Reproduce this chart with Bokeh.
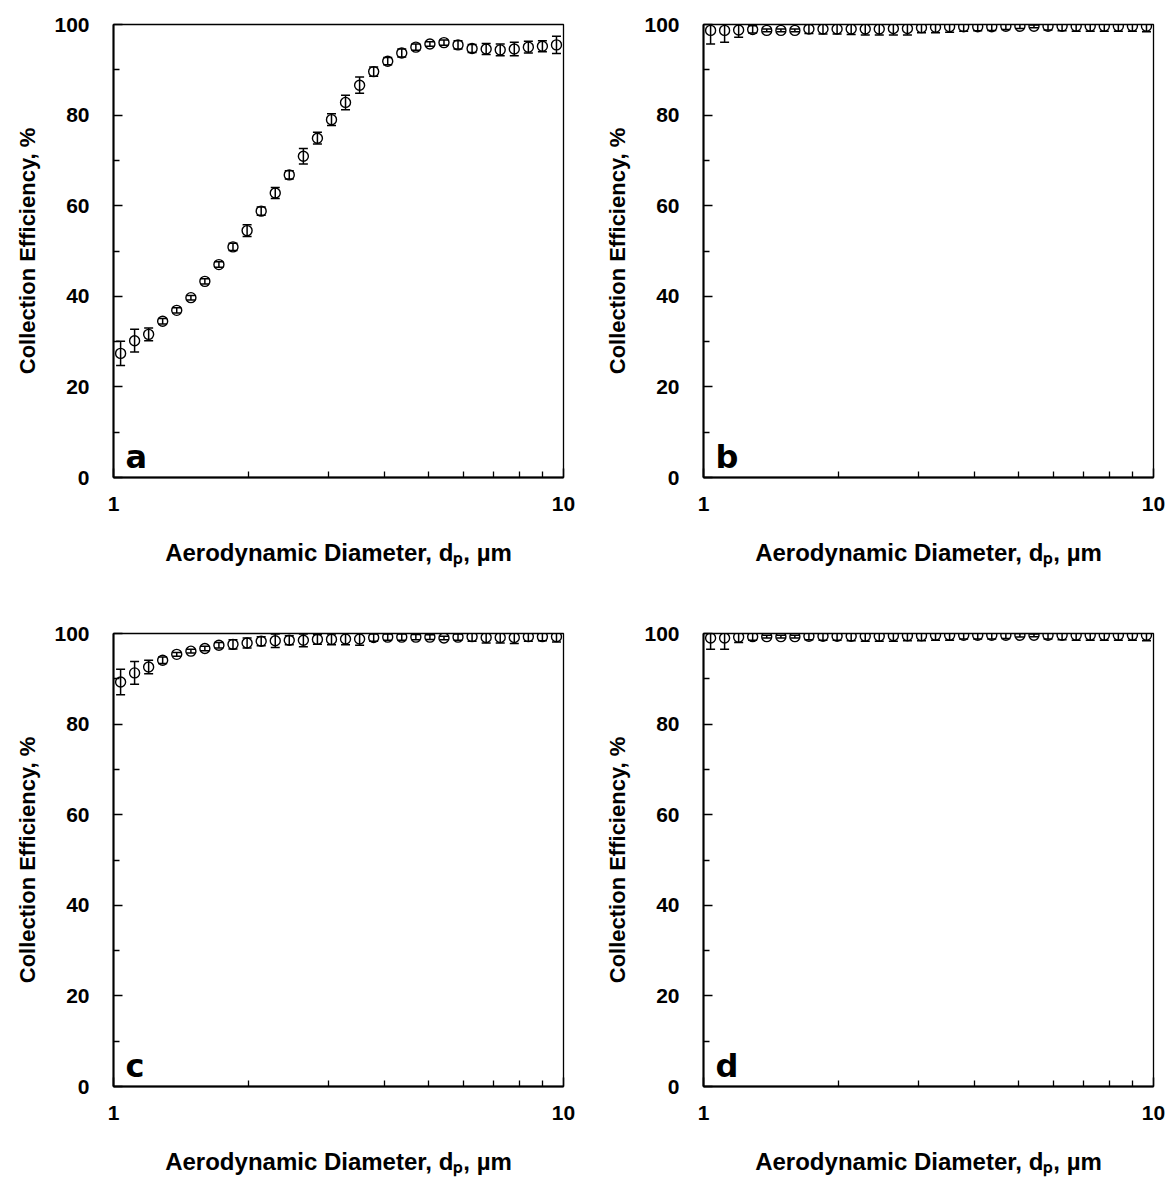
from bokeh.plotting import figure
from bokeh.layouts import column, row
from bokeh.models import FixedTicker, Label
from bokeh.embed import file_html
from bokeh.resources import INLINE

# APS channel midpoint diameters (um)
diam = [1.037, 1.114, 1.197, 1.286, 1.382, 1.486, 1.596, 1.715, 1.843, 1.981,
        2.129, 2.288, 2.458, 2.642, 2.839, 3.051, 3.278, 3.523, 3.786, 4.068,
        4.371, 4.698, 5.048, 5.425, 5.829, 6.264, 6.732, 7.234, 7.774, 8.354,
        8.977, 9.647]

a_eff = [27.4, 30.2, 31.6, 34.5, 36.9, 39.7, 43.3, 47.0, 50.9, 54.5, 58.8, 62.8,
         66.8, 70.9, 74.9, 79.0, 82.8, 86.6, 89.6, 91.9, 93.7, 95.0, 95.7, 96.0,
         95.5, 94.7, 94.6, 94.4, 94.6, 95.0, 95.2, 95.5]
a_err = [2.7, 2.5, 1.4, 0.6, 0.6, 0.5, 0.6, 0.6, 0.8, 1.3, 0.9, 1.2, 0.9, 1.7, 1.3,
         1.3, 1.6, 1.8, 1.0, 0.8, 0.9, 0.7, 0.5, 0.6, 0.9, 0.9, 1.2, 1.3, 1.5, 1.3,
         1.2, 1.9]

b_eff = [98.7, 98.7, 98.8, 98.9, 98.7, 98.7, 98.7, 99.0, 99.0, 99.0, 99.0, 99.0,
         99.0, 99.1, 99.1, 99.3, 99.4, 99.5, 99.5, 99.5, 99.5, 99.6, 99.6, 99.6,
         99.6, 99.6, 99.6, 99.6, 99.6, 99.6, 99.6, 99.6]
b_err = [3.0, 2.6, 1.6, 0.8, 0.3, 0.3, 0.3, 1.0, 1.1, 1.1, 1.2, 1.3, 1.3, 1.4, 1.4,
         1.1, 1.2, 1.2, 1.0, 0.9, 0.8, 0.7, 0.5, 0.3, 0.8, 1.0, 1.1, 1.1, 1.1, 1.1,
         1.1, 1.2]

c_eff = [89.3, 91.3, 92.6, 94.1, 95.4, 96.1, 96.7, 97.4, 97.6, 97.9, 98.3, 98.4,
         98.5, 98.5, 98.7, 98.7, 98.8, 98.8, 99.1, 99.2, 99.2, 99.2, 99.2, 99.0,
         99.2, 99.3, 99.1, 99.1, 99.1, 99.3, 99.3, 99.3]
c_err = [2.8, 2.5, 1.5, 0.7, 0.4, 0.4, 0.5, 0.6, 1.0, 1.1, 1.0, 1.5, 1.0, 1.4, 1.1,
         1.2, 1.3, 1.4, 0.8, 0.7, 0.7, 0.6, 0.5, 0.4, 0.7, 1.0, 1.2, 1.2, 1.3, 1.0,
         0.9, 1.2]

d_eff = [99.0, 99.0, 99.2, 99.3, 99.3, 99.3, 99.3, 99.4, 99.4, 99.4, 99.4, 99.4,
         99.4, 99.5, 99.5, 99.5, 99.6, 99.6, 99.6, 99.6, 99.6, 99.6, 99.6, 99.6,
         99.6, 99.6, 99.6, 99.6, 99.6, 99.6, 99.6, 99.6]
d_err = [2.5, 2.5, 1.2, 0.8, 0.3, 0.3, 0.3, 0.8, 0.9, 0.9, 1.0, 1.1, 1.1, 1.2, 1.1,
         1.1, 1.1, 1.1, 0.8, 0.8, 0.8, 0.7, 0.4, 0.3, 0.8, 1.0, 1.1, 1.1, 1.1, 1.1,
         1.1, 1.2]

y_ticks = [0, 20, 40, 60, 80, 100]
y_minor = [10, 30, 50, 70, 90]
x_ticks = [1, 10]
x_minor = [2, 3, 4, 5, 6, 7, 8, 9]

x_title = "Aerodynamic Diameter, d\u209a, \u00b5m"
y_title = "Collection Efficiency, %"

FONT = "Liberation Sans"


def make(letter, eff, err, right, bottom):
    p = figure(x_axis_type="log", x_range=(1, 10), y_range=(0, 100),
               frame_width=450, frame_height=453,
               min_border_left=113, min_border_right=right,
               min_border_top=24, min_border_bottom=bottom,
               output_backend="svg", toolbar_location=None)
    p.grid.visible = False
    p.outline_line_color = "black"
    p.outline_line_width = 1.3
    p.background_fill_color = "white"
    p.border_fill_color = "white"

    p.xaxis.ticker = FixedTicker(ticks=x_ticks, minor_ticks=x_minor)
    p.xaxis.major_label_overrides = {1: "1", 10: "10"}
    p.yaxis.ticker = FixedTicker(ticks=y_ticks, minor_ticks=y_minor)

    for ax in (p.xaxis[0], p.yaxis[0]):
        ax.axis_line_width = 2
        ax.axis_line_color = "black"
        ax.major_tick_in = 9
        ax.major_tick_out = 0
        ax.minor_tick_in = 6
        ax.minor_tick_out = 0
        ax.major_tick_line_width = 1.5
        ax.minor_tick_line_width = 1.3
        ax.major_tick_line_color = "black"
        ax.minor_tick_line_color = "black"
        ax.major_label_text_font = FONT
        ax.major_label_text_font_style = "bold"
        ax.major_label_text_font_size = "21px"
        ax.major_label_text_color = "black"
        ax.axis_label_text_font = FONT
        ax.axis_label_text_font_style = "bold"
        ax.axis_label_text_color = "black"

    p.xaxis.axis_label = x_title
    p.yaxis.axis_label = y_title
    p.xaxis.axis_label_text_font_size = "24px"
    p.yaxis.axis_label_text_font_size = "22px"
    p.xaxis.major_label_standoff = 19
    p.xaxis.axis_label_standoff = 25
    p.yaxis.major_label_standoff = 24
    p.yaxis.axis_label_standoff = 11

    lo = [v - e for v, e in zip(eff, err)]
    hi = [v + e for v, e in zip(eff, err)]
    p.segment(x0=diam, y0=lo, x1=diam, y1=hi, line_color="black", line_width=1.5)
    p.scatter(x=diam, y=lo, marker="dash", size=9, line_color="black", line_width=1.5)
    p.scatter(x=diam, y=hi, marker="dash", size=9, line_color="black", line_width=1.5)
    p.scatter(x=diam, y=eff, marker="circle", size=10, fill_color=None,
              line_color="black", line_width=1.4)

    p.add_layout(Label(x=1.063, y=0.4, text=letter, text_font="DejaVu Sans",
                       text_font_style="bold", text_font_size="32px",
                       text_color="black", text_baseline="bottom"))
    return p


pa = make("a", a_eff, a_err, 27, 132)
pb = make("b", b_eff, b_err, 14, 132)
pc = make("c", c_eff, c_err, 27, 95)
pd = make("d", d_eff, d_err, 14, 95)

layout = column(row(pa, pb), row(pc, pd))
open("out.html", "w").write(file_html(layout, INLINE))
